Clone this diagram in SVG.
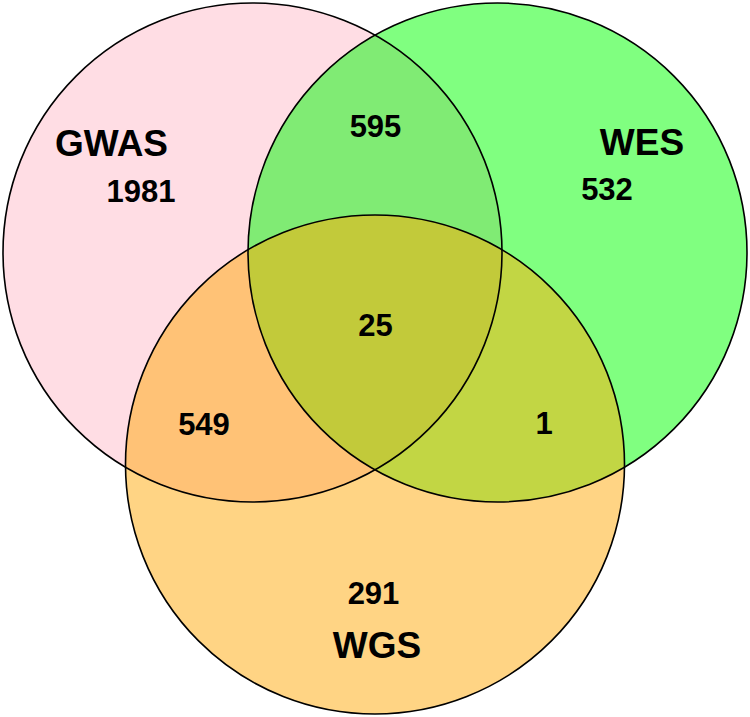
<svg xmlns="http://www.w3.org/2000/svg" width="750" height="717" viewBox="0 0 750 717">
  <style>
    .outline { fill: none; stroke: #000; stroke-width: 1.6; }
    .lbl { font-family: "Liberation Sans", Arial, sans-serif; font-weight: bold; fill: #000; text-anchor: middle; }
    .set { font-size: 37px; }
    .num { font-size: 31px; }
  </style>
  <defs>
    <clipPath id="clipGWAS"><circle cx="252.5" cy="252.5" r="249.5"/></clipPath>
    <clipPath id="clipWES"><circle cx="497.5" cy="252.5" r="249.5"/></clipPath>
    <clipPath id="clipWGS"><circle cx="375" cy="464.5" r="249.5"/></clipPath>
  </defs>
  <rect width="750" height="717" fill="#ffffff"/>
  <g id="fills">
    <circle cx="252.5" cy="252.5" r="249.5" fill="#FFDDE4"/>
    <circle cx="497.5" cy="252.5" r="249.5" fill="#80FF80"/>
    <circle cx="375" cy="464.5" r="249.5" fill="#FFD484"/>
    <circle cx="497.5" cy="252.5" r="249.5" fill="#80EB74" clip-path="url(#clipGWAS)"/>
    <circle cx="375" cy="464.5" r="249.5" fill="#FFC276" clip-path="url(#clipGWAS)"/>
    <circle cx="375" cy="464.5" r="249.5" fill="#C2D644" clip-path="url(#clipWES)"/>
    <g clip-path="url(#clipWGS)">
      <circle cx="497.5" cy="252.5" r="249.5" fill="#C2CA3A" clip-path="url(#clipGWAS)"/>
    </g>
  </g>
  <g id="GWAS">
    <circle class="outline" cx="252.5" cy="252.5" r="249.5"/>
    <text class="lbl set" x="111.5" y="156">GWAS</text>
    <text class="lbl num" x="141" y="202">1981</text>
  </g>
  <g id="WES">
    <circle class="outline" cx="497.5" cy="252.5" r="249.5"/>
    <text class="lbl set" x="642" y="155">WES</text>
    <text class="lbl num" x="607" y="200">532</text>
  </g>
  <g id="WGS">
    <circle class="outline" cx="375" cy="464.5" r="249.5"/>
    <text class="lbl num" x="373.5" y="604">291</text>
    <text class="lbl set" x="377" y="658">WGS</text>
  </g>
  <g id="intersections">
    <text class="lbl num" x="375.5" y="137">595</text>
    <text class="lbl num" x="375.5" y="336">25</text>
    <text class="lbl num" x="204" y="435">549</text>
    <text class="lbl num" x="544" y="434">1</text>
  </g>
</svg>
